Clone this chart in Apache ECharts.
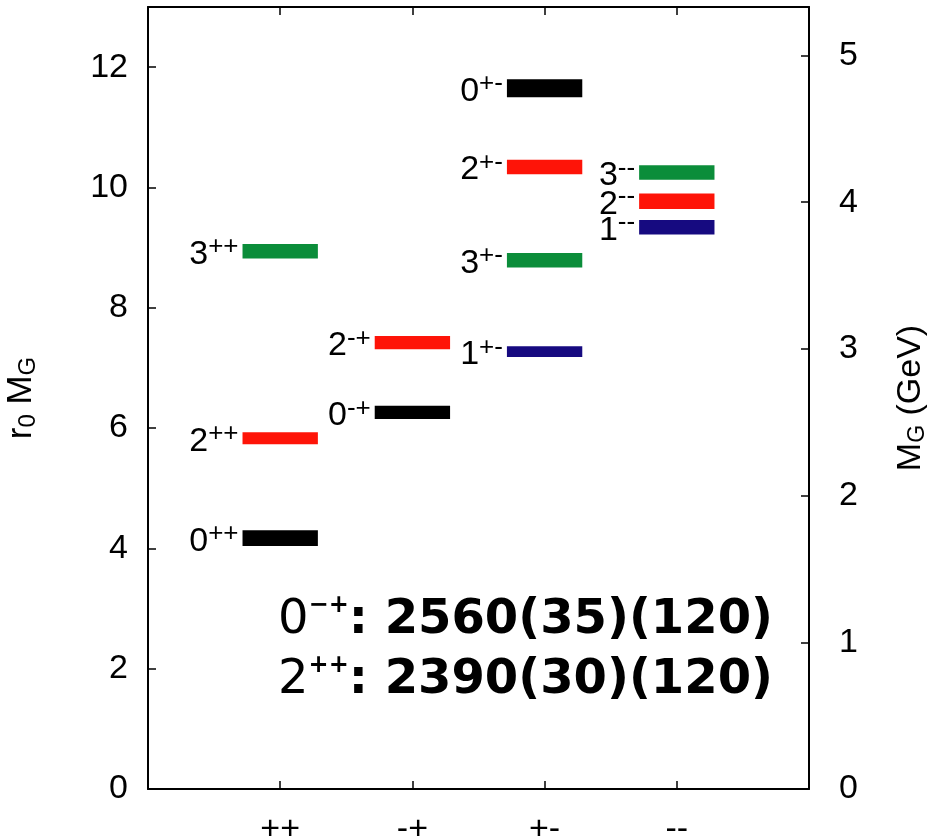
<!DOCTYPE html>
<html>
<head>
<meta charset="utf-8">
<script src="https://cdn.jsdelivr.net/npm/echarts@6/dist/echarts.min.js"></script>
<style>
  html, body { margin: 0; padding: 0; background: #fff; }
  #chart { width: 928px; height: 840px; }
</style>
</head>
<body>
<div id="chart"></div>
<script>
// Glueball spectrum by PC channel (r0 * mass, with uncertainty band)
const channels = ['++', '-+', '+-', '--'];
const stateJ = [0, 2, 3, 0, 2, 0, 2, 3, 1, 3, 2, 1];
const stateChannel = [0, 0, 0, 1, 1, 2, 2, 2, 2, 3, 3, 3];
const massR0 = [4.17, 5.83, 8.94, 6.26, 7.42, 11.65, 10.34, 8.79, 7.27, 10.25, 9.77, 9.34];
const massErr = [0.13, 0.10, 0.12, 0.11, 0.11, 0.15, 0.12, 0.12, 0.09, 0.12, 0.13, 0.12];

// r0 M axis and the matching GeV axis (1/r0 = 410 MeV)
const r0Max = 13;
const r0InvGeV = 0.41;
const leftTicks = [0, 2, 4, 6, 8, 10, 12];
const rightTicks = [0, 1, 2, 3, 4, 5];

// Highlighted results quoted in MeV
const noteJ = ['0', '2'];
const notePC = ['\u2212+', '++'];
const noteValues = ['2560(35)(120)', '2390(30)(120)'];

const colorByJ = ['#000000', '#160a80', '#fe1408', '#0b8d3a'];
const BAR_HALF = 0.285;
const FONT = '"Liberation Sans", Arial, Helvetica, sans-serif';
const NOTE_FONT = '"DejaVu Sans", sans-serif';

const seriesData = massR0.map((m, i) => [stateChannel[i] + 1, m, massErr[i], stateJ[i], stateChannel[i]]);

function renderItem(params, api) {
  const x = api.value(0), v = api.value(1), e = api.value(2);
  const j = api.value(3), ch = api.value(4);
  const p1 = api.coord([x - BAR_HALF, v + e]);
  const p2 = api.coord([x + BAR_HALF, v - e]);
  return {
    type: 'group',
    children: [
      {
        type: 'rect',
        shape: { x: p1[0], y: p1[1], width: p2[0] - p1[0], height: p2[1] - p1[1] },
        style: { fill: colorByJ[j] }
      },
      {
        type: 'text',
        x: p1[0] - 4,
        y: (p1[1] + p2[1]) / 2 + 3,
        style: {
          text: '{d|' + j + '}{s|' + channels[ch] + '}',
          align: 'right',
          verticalAlign: 'middle',
          rich: {
            d: { fontSize: 34, fontFamily: FONT, fill: '#000', lineHeight: 40 },
            s: { fontSize: 26, fontFamily: FONT, fill: '#000', lineHeight: 10, verticalAlign: 'top' }
          }
        }
      }
    ]
  };
}

const axisLineStyle = { show: true, onZero: false, lineStyle: { color: '#000', width: 2 } };
const tickStyle = { show: true, inside: true, length: 8, lineStyle: { color: '#000', width: 1.5 } };

const chart = echarts.init(document.getElementById('chart'), null, { renderer: 'canvas' });
chart.setOption({
  animation: false,
  backgroundColor: '#fff',
  grid: { left: 148, right: 119, top: 7, bottom: 51, containLabel: false, outerBoundsMode: 'none' },
  xAxis: [
    {
      type: 'value', min: 0, max: channels.length + 1, interval: 1,
      position: 'bottom',
      axisLine: axisLineStyle, axisTick: tickStyle, splitLine: { show: false },
      axisLabel: {
        formatter: v => channels[v - 1] || '',
        fontSize: 34, fontFamily: FONT, color: '#000', margin: 24
      }
    },
    {
      type: 'value', min: 0, max: channels.length + 1, interval: 1,
      position: 'top',
      axisLine: axisLineStyle, axisTick: tickStyle, splitLine: { show: false },
      axisLabel: { show: false }
    }
  ],
  yAxis: [
    {
      type: 'value', min: 0, max: r0Max, interval: 2,
      position: 'left',
      axisLine: axisLineStyle, axisTick: tickStyle, splitLine: { show: false },
      axisLabel: {
        fontSize: 34, fontFamily: FONT, color: '#000', margin: 20,
        showMaxLabel: false,
        formatter: v => (leftTicks.indexOf(v) >= 0 ? String(v) : '')
      },
      name: '{r|r}{sub|0}{r| M}{sub|G}',
      nameLocation: 'middle',
      nameRotate: 90,
      nameGap: 108,
      nameTextStyle: {
        rich: {
          r: { fontSize: 35, fontFamily: FONT, color: '#000', lineHeight: 38 },
          sub: { fontSize: 24, fontFamily: FONT, color: '#000', lineHeight: 38, verticalAlign: 'bottom' }
        }
      }
    },
    {
      type: 'value', min: 0, max: r0Max * r0InvGeV, interval: 1,
      position: 'right',
      axisLine: axisLineStyle, axisTick: tickStyle, splitLine: { show: false },
      axisLabel: {
        fontSize: 34, fontFamily: FONT, color: '#000', margin: 30,
        showMaxLabel: false,
        formatter: v => (rightTicks.indexOf(v) >= 0 ? String(v) : '')
      },
      name: '{r|M}{sub|G}{r| (GeV)}',
      nameLocation: 'middle',
      nameRotate: 90,
      nameGap: 84,
      nameTextStyle: {
        rich: {
          r: { fontSize: 34, fontFamily: FONT, color: '#000', lineHeight: 36 },
          sub: { fontSize: 23, fontFamily: FONT, color: '#000', lineHeight: 36, verticalAlign: 'bottom' }
        }
      }
    }
  ],
  series: [
    {
      type: 'custom',
      xAxisIndex: 0,
      yAxisIndex: 0,
      renderItem: renderItem,
      data: seriesData,
      clip: false
    }
  ],
  graphic: noteValues.map((val, i) => ({
    type: 'text',
    x: 278,
    y: 621 + i * 60,
    style: {
      text: '{n|' + noteJ[i] + '}{s|' + notePC[i] + '}{c|:}{b| ' + val + '}',
      align: 'left',
      verticalAlign: 'middle',
      rich: {
        n: { fontSize: 48, fontFamily: NOTE_FONT, fill: '#000', lineHeight: 54 },
        s: { fontSize: 24, fontFamily: NOTE_FONT, fontWeight: 'bold', fill: '#000', lineHeight: 28, verticalAlign: 'top' },
        c: { fontSize: 48, fontFamily: NOTE_FONT, fontWeight: 'bold', fill: '#000', lineHeight: 54 },
        b: { fontSize: 48, fontFamily: NOTE_FONT, fontWeight: 'bold', fill: '#000', lineHeight: 54 }
      }
    }
  }))
});
</script>
</body>
</html>
